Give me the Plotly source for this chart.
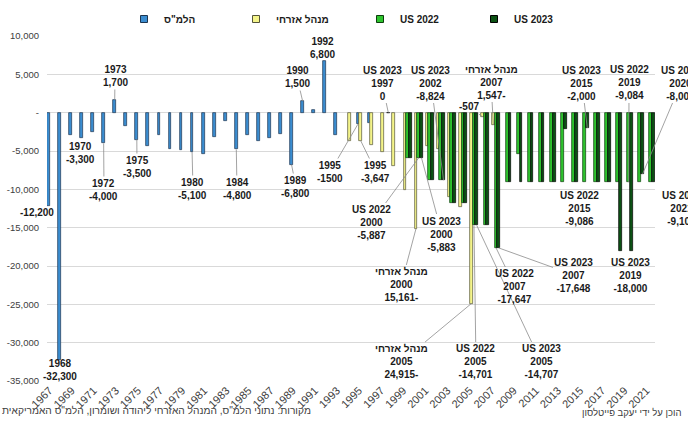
import plotly.graph_objects as go

# ---------------- data ----------------
cbs_years = list(range(1967, 1997))
cbs_values = [-12200, -32300, -2900, -3300, -2500, -4000, 1700, -1800, -3500, -4300,
              -2900, -4800, -4900, -5100, -5400, -3200, -1100, -4800, -2900, -3700,
              -3300, -2800, -6800, 1500, 400, 6800, -2900, None, -1500, -1300]

civ_years = list(range(1994, 2008))
civ_values = [-3700, -3647, -4200, -5150, -6900, -10100, -15161, -4300, -4800, -11000,
              -12300, -24915, -507, -1547]

us22_years = list(range(1999, 2022))
us22_values = [-5950, -5887, -8800, -8800, -11800, -11800, -14701, -14700, -17647,
               -9100, -5400, -9100, -9100, -9100, -9100, -9100, -9086, -9100, -9100,
               -9100, -9084, -9100, -9100]

us23_years = list(range(1997, 2022))
us23_values = [0, None, -5950, -5883, -8800, -8824, -11800, -11800, -14707, -14700,
               -17648, -9050, -9050, -9050, -9050, -9050, -2100, -9050, -2000, -9050,
               -9050, -18000, -18000, -8000, -9100]

x_ticks = list(range(1967, 2022, 2))
y_ticks = [10000, 5000, 0, -5000, -10000, -15000, -20000, -25000, -30000, -35000]
y_tick_text = ["10,000", "5,000", "-", "-5,000", "-10,000", "-15,000", "-20,000",
               "-25,000", "-30,000", "-35,000"]

CB = 'הלמ"ס'
CA = "מנהל אזרחי"
# name, years, values, fill, outline, bar offset, legend symbol centre (px)
series = [
    (CB, cbs_years, cbs_values, "#3b8dd0", "#1c3550", -0.5, 146),
    (CA, civ_years, civ_values, "#f4f48a", "#55553a", -0.25, 258),
    ("US 2022", us22_years, us22_values, "#2ec42e", "#0d3d0d", 0.0, 382),
    ("US 2023", us23_years, us23_values, "#0c5214", "#000000", 0.25, 496),
]

# plot-area geometry (pixels)
L, R, T, B = 47, 655, 36, 381
X0, X1 = 1966.5, 2021.5
Y0, Y1 = -35000, 10000

fig = go.Figure()
legends = {}
for i, (name, xs, ys, fill, line, off, lx) in enumerate(series):
    lg = "legend" if i == 0 else "legend%d" % (i + 1)
    fig.add_trace(go.Bar(
        x=xs, y=ys, name=name, offset=off, width=0.25, showlegend=False,
        marker=dict(color=fill, line=dict(color=line, width=0.7)),
    ))
    # legend swatch
    fig.add_trace(go.Scatter(
        x=[None], y=[None], mode="markers", name=name, legend=lg,
        marker=dict(symbol="square", size=7, color=fill, line=dict(color=line, width=1)),
    ))
    legends[lg] = dict(orientation="h", x=(lx - 22 - L) / (R - L),
                       y=1 + (T - 19) / (B - T), xanchor="left", yanchor="middle",
                       bgcolor="rgba(0,0,0,0)",
                       font=dict(family="Liberation Sans", size=10, color="#1a1a1a",
                                 weight="bold"))

OFFS = {s[0]: s[5] + 0.125 for s in series}
FONT = dict(family="Liberation Sans", size=10, color="#1a1a1a")


def px_x(v):
    return L + (v - X0) * (R - L) / (X1 - X0)


def px_y(v):
    return T + (Y1 - v) * (B - T) / (Y1 - Y0)


def label(text, cx, cy):
    fig.add_annotation(x=(cx - L) / (R - L), y=(B - cy) / (B - T), xref="paper", yref="paper",
                       xanchor="center", yanchor="middle",
                       text="<b>" + text + "</b>", showarrow=False, font=FONT, align="center")


def leader(text, year, name, value, cx, cy):
    tx = year + OFFS[name]
    fig.add_annotation(x=tx, y=value, xref="x", yref="y", text="<b>" + text + "</b>",
                       xanchor="center", yanchor="middle",
                       showarrow=True, arrowhead=0, arrowwidth=0.8, arrowcolor="#8c8c8c",
                       ax=cx - px_x(tx), ay=cy - px_y(value), font=FONT, align="center")


label("1968<br>-32,300", 60, 370)
label("-12,200", 37, 213)
label("1970<br>-3,300", 80, 153)
leader("1972<br>-4,000", 1972, CB, -4000, 104, 190)
leader("1973<br>1,700", 1973, CB, 1700, 115, 76)
leader("1975<br>-3,500", 1975, CB, -3500, 137, 167)
leader("1980<br>-5,100", 1980, CB, -5100, 193, 189)
leader("1984<br>-4,800", 1984, CB, -4800, 237, 189)
leader("1989<br>-6,800", 1989, CB, -6800, 296, 187)
leader("1990<br>1,500", 1990, CB, 1500, 297, 77)
label("1992<br>6,800", 322, 48)
leader("1995<br>-1500", 1995, CB, -1500, 330, 172)
leader("1995<br>-3,647", 1995, CA, -3647, 376, 172)
leader("US 2022<br>2000<br>-5,887", 2000, "US 2022", -5887, 371, 223)
leader("US 2023<br>2000<br>-5,883", 2000, "US 2023", -5883, 442, 234)
leader(CA + "<br>2000<br>15,161-", 2000, CA, -15161, 401, 285)
leader(CA + "<br>2005<br>24,915-", 2005, CA, -24915, 401, 362)
leader("US 2022<br>2005<br>-14,701", 2005, "US 2022", -14701, 476, 362)
leader("US 2023<br>2005<br>-14,707", 2005, "US 2023", -14707, 541, 362)
leader("US 2022<br>2007<br>-17,647", 2007, "US 2022", -17647, 515, 287)
leader("US 2023<br>2007<br>-17,648", 2007, "US 2023", -17648, 574, 275)
label("US 2023<br>2019<br>-18,000", 630, 275)
label("US 2022<br>2015<br>-9,086", 579, 209)
leader("US 2023<br>1997<br>0", 1997, "US 2023", 0, 382, 83)
leader("US 2023<br>2002<br>-8,824", 2002, "US 2023", -8824, 431, 83)
leader(CA + "<br>2007<br>1,547-", 2007, CA, -1547, 491, 82)
leader("-507", 2006, CA, -507, 469, 107)
leader("US 2023<br>2015<br>-2,000", 2015, "US 2023", -2000, 582, 83)
leader("US 2022<br>2019<br>-9,084", 2019, "US 2022", -9084, 629, 83)
leader("US 2023<br>2020<br>-8,000", 2020, "US 2023", -8000, 681, 83)
label("US 2022<br>2021<br>-9,100", 681, 209)

fig.add_annotation(x=(0 - L) / (R - L), y=(B - 410) / (B - T), xref="paper", yref="paper",
                   text='מקורות: נתוני הלמ"ס, המנהל האזרחי ליהודה ושומרון, הלמ"ס האמריקאית',
                   showarrow=False, xanchor="left", yanchor="middle",
                   font=dict(family="Liberation Sans", size=10.2, color="#404040"))
fig.add_annotation(x=(632 - L) / (R - L), y=(B - 412) / (B - T), xref="paper", yref="paper",
                   text="הוכן על ידי יעקב פייטלסון",
                   showarrow=False, xanchor="center", yanchor="middle",
                   font=dict(family="Liberation Sans", size=9.5, color="#404040"))

fig.update_layout(
    width=688, height=428,
    margin=dict(l=L, r=688 - R, t=T, b=428 - B, autoexpand=False),
    paper_bgcolor="white", plot_bgcolor="white",
    barmode="overlay", bargap=0,
    showlegend=True,
    xaxis=dict(range=[X0, X1], tickmode="array", tickvals=x_ticks,
               ticktext=[str(v) for v in x_ticks], tickangle=-45, automargin=False,
               ticklabelshift=-3, ticklabelstandoff=0,
               tickfont=dict(family="Liberation Sans", size=11, color="#404040"),
               showgrid=False, zeroline=False, showline=False, ticks=""),
    yaxis=dict(range=[Y0, Y1], tickmode="array", tickvals=y_ticks, automargin=False,
               ticktext=y_tick_text, ticklabelstandoff=7,
               tickfont=dict(family="Liberation Sans", size=9.5, color="#404040"),
               showgrid=True, gridcolor="#d9d9d9", gridwidth=1,
               zeroline=True, zerolinecolor="#d9d9d9", zerolinewidth=1, ticks=""),
    **legends,
)

fig.write_html("out.html", config={"displayModeBar": False},
               post_script="document.body.style.margin='0px';")
